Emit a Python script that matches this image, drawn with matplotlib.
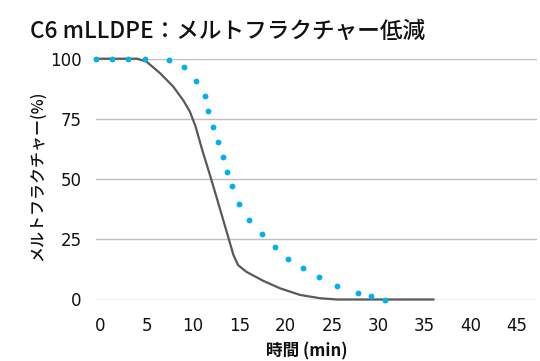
import matplotlib.pyplot as plt
import matplotlib.transforms as mtransforms

# data
dots_min = [0, 1.75, 3.5, 5.3, 7.9, 9.6, 10.9, 11.8, 12.2, 12.7, 13.2, 13.8, 14.2,
            14.8, 15.5, 16.6, 18.0, 19.4, 20.8, 22.4, 24.1, 26.1, 28.4, 29.8, 31.3]
dots_pct = [100, 100, 100, 100, 99.3, 96.6, 90.9, 84.5, 78.2, 71.8, 65.5, 59.2, 52.8,
            47.1, 39.8, 32.9, 27.1, 21.8, 16.7, 13.0, 9.3, 5.6, 2.8, 1.3, 0]

line_min = [0, 4.5, 5.5, 7.0, 8.4, 9.5, 10.2, 10.8, 11.5, 12.3, 13.0, 13.8, 14.5,
            14.9, 15.4, 16.3, 18.1, 19.9, 22.1, 24.3, 26.1, 36.5]
line_pct = [100, 100, 98.8, 93.9, 88.4, 82.6, 78.0, 72.0, 62.5, 52.5, 43.5, 33.0, 23.8,
            18.5, 14.3, 11.5, 7.8, 4.7, 1.9, 0.5, 0, 0]

x_ticks = [0, 5, 10, 15, 20, 25, 30, 35, 40, 45]
y_ticks = [0, 25, 50, 75, 100]

jp = ['Noto Sans CJK JP', 'DejaVu Sans']

fig = plt.figure(figsize=(5.4, 3.61), dpi=100)
ax = fig.add_axes([95.5 / 540, 61.5 / 361, 441.5 / 540, 240.8 / 361])

ax.plot(line_min, line_pct, color='#595959', linewidth=1.6, clip_on=False, zorder=3)
ax.plot(dots_min, dots_pct, linestyle='none', marker='o', markersize=4.2,
        color='#00b0f0', markeredgewidth=0, clip_on=False, zorder=4)

ax.set_xlim(0, 47.7)
ax.set_ylim(0, 100)
ax.set_xticks(x_ticks)
ax.set_yticks(y_ticks)
ax.yaxis.grid(True, color='#bfbfbf', linewidth=1)
ax.set_axisbelow(True)
for s in ax.spines.values():
    s.set_visible(False)
ax.tick_params(length=0, labelsize=12, colors='#111111')
ax.tick_params(axis='x', pad=12.5)
ax.tick_params(axis='y', pad=10)

# x tick labels sit a few pixels right of their data position in the original
shift = mtransforms.ScaledTranslation(5 / 100, 0, fig.dpi_scale_trans)
for lbl in ax.get_xticklabels():
    lbl.set_transform(lbl.get_transform() + shift)

fig.text(30 / 540, 1 - 31 / 361, 'C6 mLLDPE：メルトフラクチャー低減', family=jp,
         fontsize=16.3, fontweight='medium', va='center', ha='left', color='#111111')
fig.text(307 / 540, 1 - 351 / 361, '時間 (min)', family=jp, fontsize=12,
         fontweight='bold', va='center', ha='center', color='#111111')
fig.text(38 / 540, 1 - 176 / 361, 'メルトフラクチャー(%)', family=jp, fontsize=11.5,
         fontweight='medium', va='center', ha='center', rotation=90, color='#111111')

fig.savefig('out.png', dpi=100)
